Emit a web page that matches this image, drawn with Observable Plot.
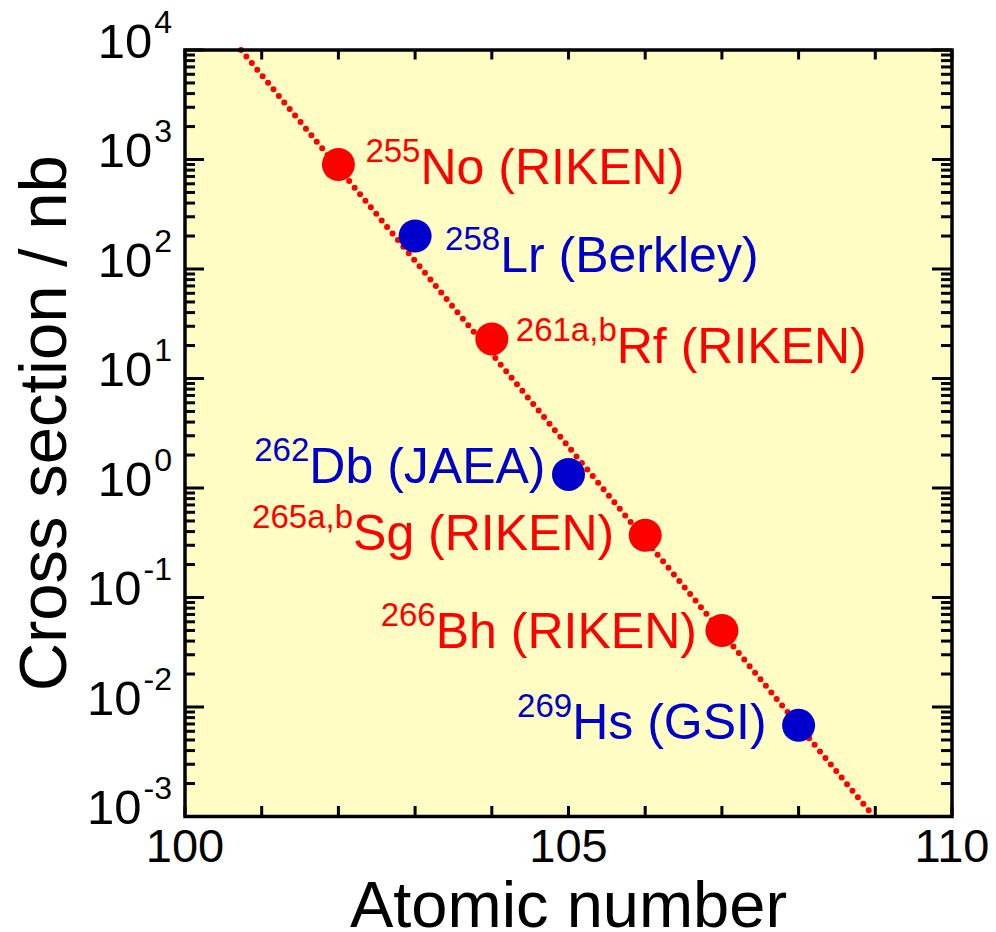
<!DOCTYPE html>
<html><head><meta charset="utf-8">
<script src="https://cdn.jsdelivr.net/npm/d3@7"></script>
<script src="https://cdn.jsdelivr.net/npm/@observablehq/plot@0.6"></script>
<style>
html,body{margin:0;padding:0;background:#fff;}
#chart{width:996px;height:932px;overflow:hidden;}
svg{display:block;}
</style></head><body><div id="chart"></div>
<script>
// ---- data ----
const atomicNumbers = [102, 103, 104, 105, 106, 107, 108];
const massNumbers = ["255", "258", "261a,b", "262", "265a,b", "266", "269"];
const elements = ["No", "Lr", "Rf", "Db", "Sg", "Bh", "Hs"];
const labs = ["RIKEN", "Berkley", "RIKEN", "JAEA", "RIKEN", "RIKEN", "GSI"];
const crossSections = [900, 200, 23, 1.33, 0.37, 0.05, 0.0068]; // nb
const fitZ = [100.73, 108.98];
const fitSigma = [1e4, 1e-3];
const xTickLabels = [100, 105, 110];
const xTickValues = d3.range(100, 111);
const yDecades = [-3, -2, -1, 0, 1, 2, 3, 4];

// ---- layout / style ----
const W = 996, H = 932;
const mTop = 49.5, mRight = 44.5, mBottom = 116, mLeft = 184.5;
const innerW = W - mLeft - mRight, innerH = H - mTop - mBottom;
const RED = "#ff0000", BLUE = "#0000cc", BG = "#fffdc4";
const labColor = lab => lab === "RIKEN" ? RED : BLUE;
const labelSide = ["right", "right", "right", "left", "left", "left", "left"];
const labelDx = [27, 30, 24, -23, -31, -25, -32];
const labelDy = [19, 36, 24, 9, 15, 18, 14];

const rows = atomicNumbers.map((z, i) => ({
  z, sigma: crossSections[i], mass: massNumbers[i], element: elements[i], lab: labs[i]
}));
const fit = fitZ.map((z, i) => ({z, sigma: fitSigma[i]}));
const yMajor = yDecades.map(e => Math.pow(10, e));
const yMinor = yDecades.slice(0, -1).flatMap(e => d3.range(2, 10).map(k => k * Math.pow(10, e)));

const labelMarks = rows.map((r, i) => Plot.text([r], {
  x: "z", y: "sigma",
  text: d => d.mass + "|" + d.element + " (" + d.lab + ")",
  textAnchor: labelSide[i] === "right" ? "start" : "end",
  lineAnchor: "bottom",
  dx: labelDx[i], dy: labelDy[i],
  fill: labColor(r.lab), fontSize: 50
}));

const svg = Plot.plot({
  width: W, height: H,
  marginTop: mTop, marginRight: mRight, marginBottom: mBottom, marginLeft: mLeft,
  x: {domain: [100, 110], axis: null},
  y: {type: "log", domain: [1e-3, 1e4], axis: null},
  style: {fontFamily: "'Liberation Sans', Arial, Helvetica, sans-serif", background: "white", color: "black"},
  marks: [
    Plot.frame({fill: BG, stroke: "none"}),
    // ticks (inward)
    Plot.ruleX(xTickValues, {x: d => d, insetTop: innerH - 10, stroke: "black", strokeWidth: 3}),
    Plot.ruleX(xTickValues, {x: d => d, insetBottom: innerH - 10, stroke: "black", strokeWidth: 3}),
    Plot.ruleY(yMajor, {y: d => d, insetRight: innerW - 19.5, stroke: "black", strokeWidth: 3}),
    Plot.ruleY(yMajor, {y: d => d, insetLeft: innerW - 19.5, stroke: "black", strokeWidth: 3}),
    Plot.ruleY(yMinor, {y: d => d, insetRight: innerW - 10.5, stroke: "black", strokeWidth: 3}),
    Plot.ruleY(yMinor, {y: d => d, insetLeft: innerW - 10.5, stroke: "black", strokeWidth: 3}),
    // fit line
    Plot.line(fit, {x: "z", y: "sigma", stroke: RED, strokeWidth: 6, strokeDasharray: "0 8.5", strokeLinecap: "round"}),
    // points
    Plot.dot(rows.filter(r => r.lab === "RIKEN"), {x: "z", y: "sigma", r: 16.5, fill: RED, stroke: null}),
    Plot.dot(rows.filter(r => r.lab !== "RIKEN"), {x: "z", y: "sigma", r: 16.5, fill: BLUE, stroke: null}),
    ...labelMarks,
    Plot.frame({stroke: "black", strokeWidth: 3.5, fill: "none"}),
    // tick labels
    Plot.text(xTickLabels, {x: d => d, frameAnchor: "bottom", text: d => String(d), fontSize: 47, lineAnchor: "top", dy: 12.6, fill: "black"}),
    Plot.text(yMajor, {y: d => d, frameAnchor: "left", text: d => "10^" + Math.round(Math.log10(d)), textAnchor: "end", lineAnchor: "bottom", dx: -13, fontSize: 49, fill: "black"}),
    // axis titles
    Plot.text(["Cross section / nb"], {frameAnchor: "left", text: d => d, rotate: -90, textAnchor: "middle", dx: -140.5, dy: -10, fontSize: 67, lineAnchor: "middle", fill: "black"}),
    Plot.text(["Atomic number"], {frameAnchor: "bottom", text: d => d, textAnchor: "middle", fontSize: 65, lineAnchor: "bottom", dy: 110, fill: "black"})
  ]
});

// superscripts
const NS = "http://www.w3.org/2000/svg";
function cleanY(t) {
  const y = t.getAttribute("y");
  if (y && /em$/.test(y)) t.removeAttribute("y");
}
svg.querySelectorAll("text").forEach(t => {
  const s = t.textContent;
  if (s.includes("^")) {
    const [base, exp] = s.split("^");
    cleanY(t);
    t.textContent = "";
    const a = document.createElementNS(NS, "tspan");
    a.setAttribute("dy", "7.7"); a.textContent = base;
    const b = document.createElementNS(NS, "tspan");
    b.setAttribute("dy", "-25"); b.setAttribute("font-size", "32"); b.setAttribute("dx", "2"); b.textContent = exp;
    t.append(a, b);
  } else if (s.includes("|")) {
    const [sup, main] = s.split("|");
    cleanY(t);
    t.textContent = "";
    const a = document.createElementNS(NS, "tspan");
    a.setAttribute("dy", "-22"); a.setAttribute("font-size", "33"); a.textContent = sup;
    const b = document.createElementNS(NS, "tspan");
    b.setAttribute("dy", "22"); b.setAttribute("font-size", "50"); b.textContent = main;
    t.append(a, b);
  }
});

document.getElementById("chart").append(svg);
</script>
</body></html>
